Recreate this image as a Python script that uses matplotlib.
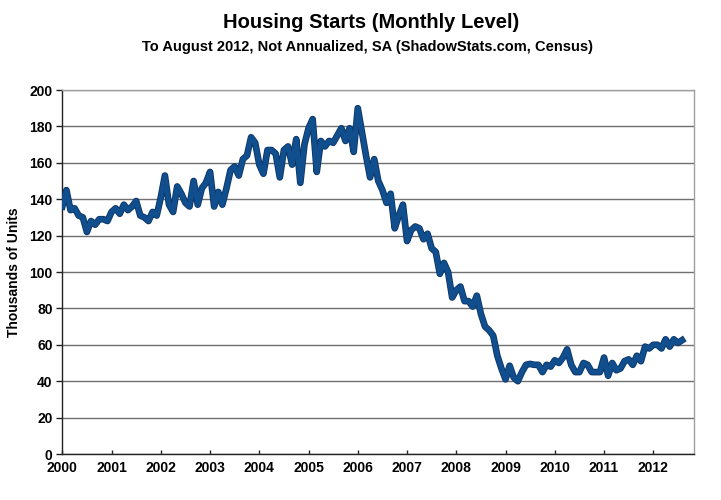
import matplotlib
matplotlib.use("Agg")
import matplotlib.pyplot as plt
import matplotlib.patheffects as pe

plt.rcParams["font.family"] = ["Liberation Sans", "DejaVu Sans"]

# Monthly housing starts, thousands of units (not annualized), Jan 2000 - Aug 2012
starts_2000 = [136, 145, 134, 135, 131, 130, 122, 128, 126, 129, 129, 128]
starts_2001 = [133, 135, 132, 137, 134, 136, 139, 131, 130, 128, 133, 131]
starts_2002 = [141, 153, 137, 133, 147, 143, 138, 136, 150, 137, 146, 149]
starts_2003 = [155, 136, 144, 137, 146, 156, 158, 153, 162, 164, 174, 171]
starts_2004 = [159, 154, 167, 167, 165, 152, 167, 169, 159, 173, 149, 170]
starts_2005 = [179, 184, 155, 172, 169, 172, 171, 175, 179, 172, 179, 166]
starts_2006 = [190, 177, 164, 152, 162, 150, 145, 138, 143, 124, 131, 137]
starts_2007 = [117, 123, 125, 124, 118, 121, 113, 111, 99, 105, 100, 86]
starts_2008 = [90, 92, 84, 84, 81, 87, 77, 70, 68, 65, 54, 47]
starts_2009 = [41, 48.5, 42, 40, 45, 49, 49.5, 49, 49, 45, 49, 48]
starts_2010 = [51.5, 50, 53, 57.5, 49, 45, 45, 50, 49, 45, 45, 45]
starts_2011 = [53, 43, 50, 46, 47, 51, 52, 49, 54, 51, 59, 58]
starts_2012 = [60, 60, 58, 63, 59, 63, 61, 62.5]

years = list(range(2000, 2013))
year_labels = [str(y) for y in years]

values = (starts_2000 + starts_2001 + starts_2002 + starts_2003 + starts_2004
          + starts_2005 + starts_2006 + starts_2007 + starts_2008 + starts_2009
          + starts_2010 + starts_2011 + starts_2012)
months = list(range(len(values)))

fig = plt.figure(figsize=(7.21, 5.0), dpi=100)
ax = fig.add_axes([0.0864, 0.092, 0.8766, 0.728])

ax.plot(months, values, color="#104e8e", linewidth=3.6, solid_joinstyle="round",
        path_effects=[pe.Stroke(linewidth=4.8, foreground="#0b3566"), pe.Normal()],
        zorder=3)

ax.set_xlim(0, 154)
ax.set_ylim(0, 200)
ax.set_yticks(range(0, 201, 20))
ax.set_xticks([12 * i for i in range(len(years))])
ax.set_xticklabels(year_labels)

ax.yaxis.grid(True, color="#707070", linewidth=1.0)
ax.set_axisbelow(True)

for side in ["top", "right"]:
    ax.spines[side].set_color("#a0a0a0")
    ax.spines[side].set_linestyle((0, (1, 1)))
    ax.spines[side].set_linewidth(1.0)
for side in ["left", "bottom"]:
    ax.spines[side].set_color("#222222")
    ax.spines[side].set_linewidth(1.0)

ax.tick_params(axis="y", direction="out", length=4, width=1, color="#222222",
               labelsize=10, pad=3)
ax.tick_params(axis="x", direction="in", length=3, width=1, color="#222222",
               labelsize=10, pad=5)
for lab in ax.get_xticklabels() + ax.get_yticklabels():
    lab.set_fontweight("bold")

ax.set_ylabel("Thousands of Units", fontsize=10, fontweight="bold", labelpad=6)

fig.text(0.515, 0.955, "Housing Starts (Monthly Level)", ha="center", va="center",
         fontsize=14.5, fontweight="bold")
fig.text(0.51, 0.905, "To August 2012, Not Annualized, SA (ShadowStats.com, Census)",
         ha="center", va="center", fontsize=10.5, fontweight="bold")

plt.savefig("out.png", dpi=100)
